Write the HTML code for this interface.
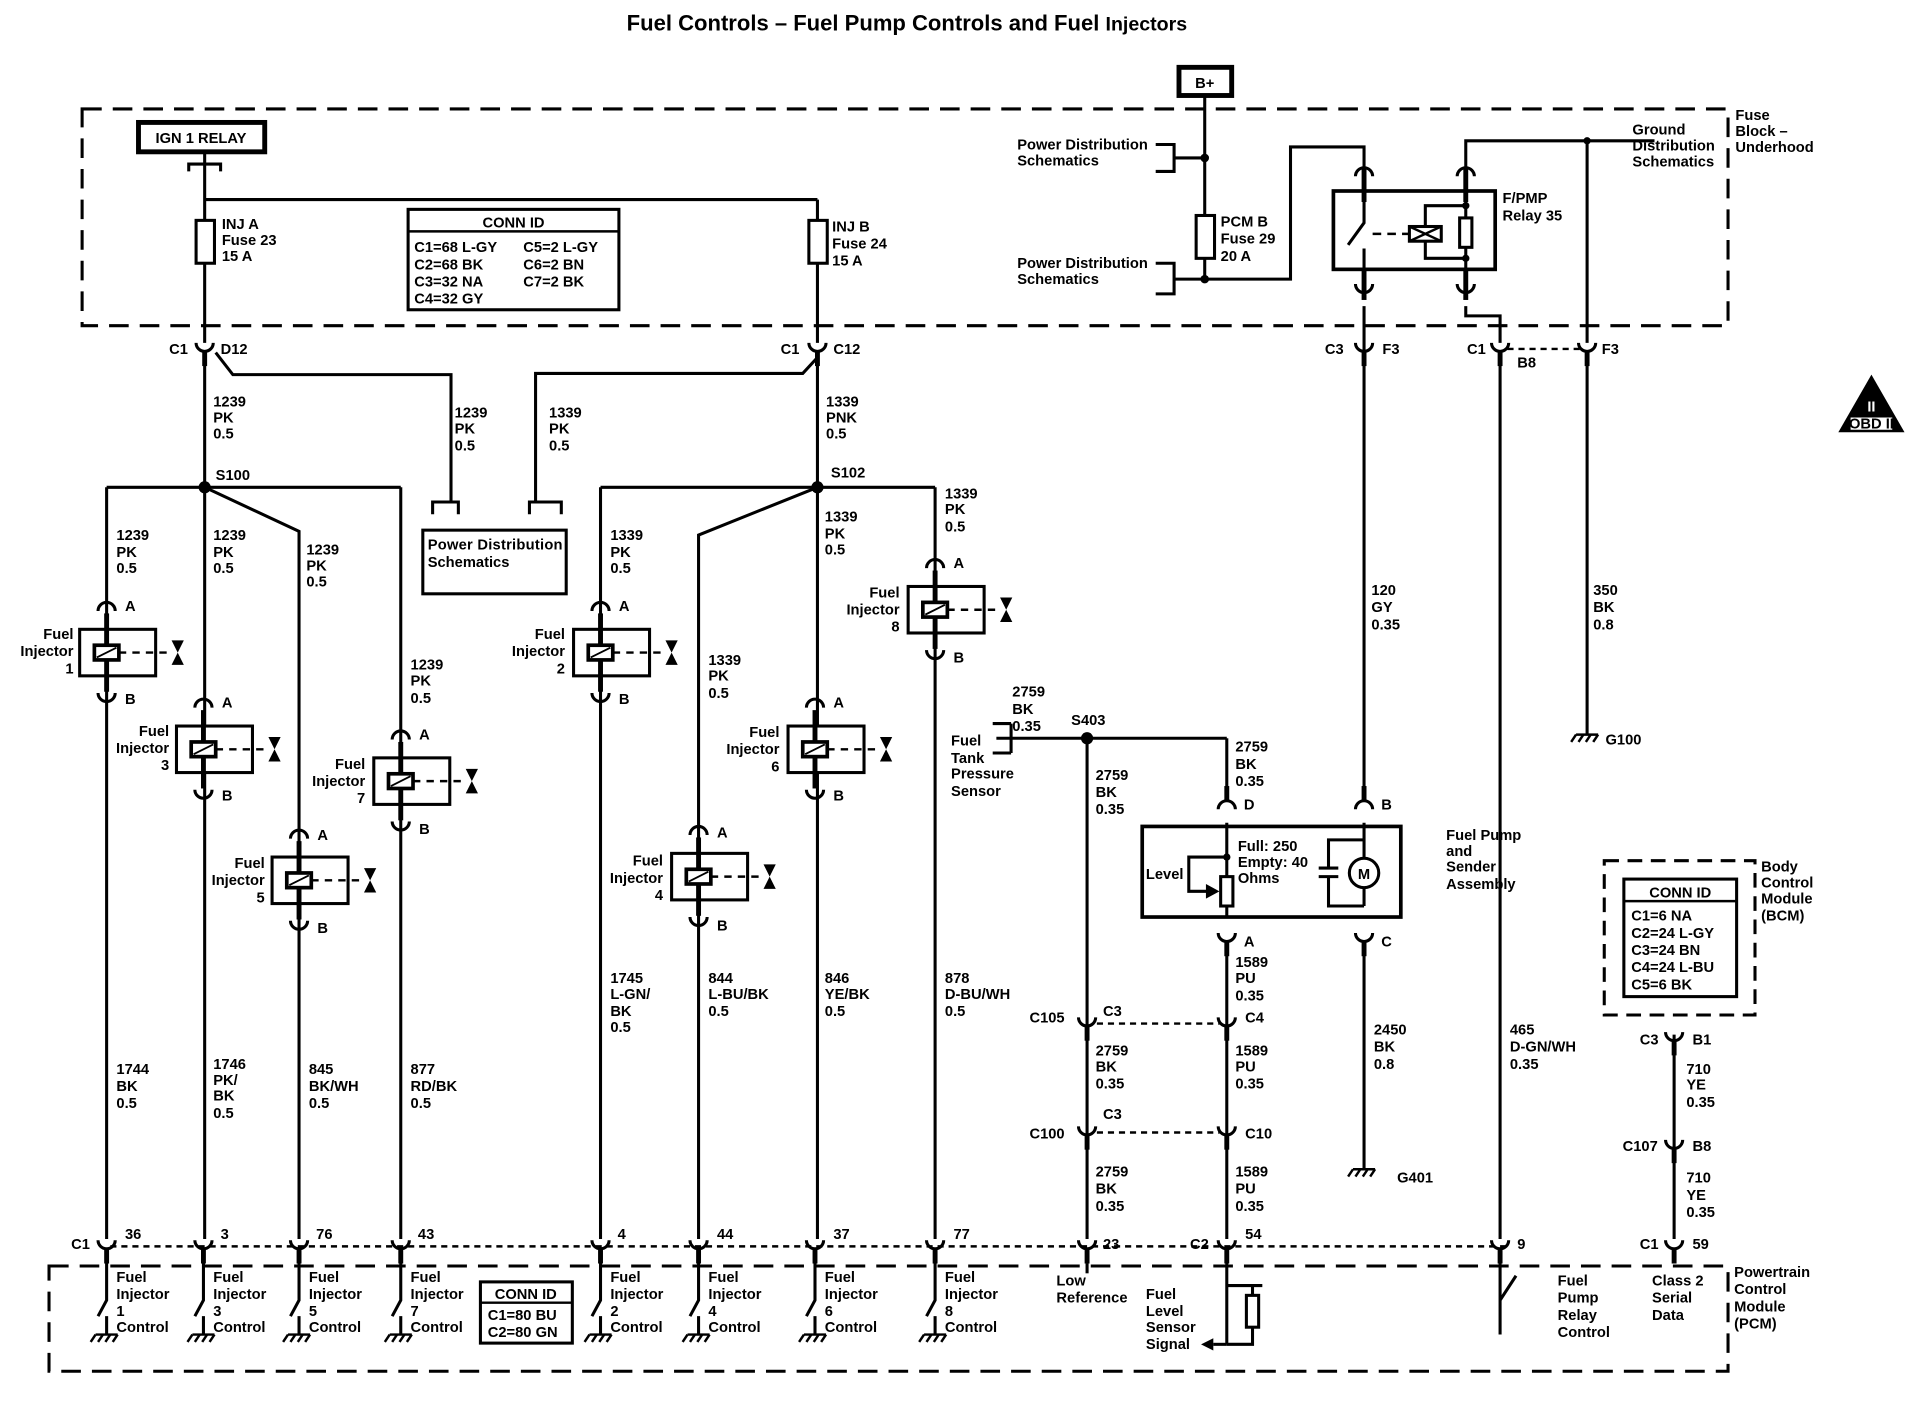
<!DOCTYPE html>
<html><head><meta charset="utf-8"><style>
html,body{margin:0;padding:0;background:#fff}
svg{display:block}
text{font-family:"Liberation Sans",sans-serif;font-weight:bold;font-size:12px;fill:#000}
.t{font-size:18px}
</style></head><body>
<svg width="1918" height="1408" viewBox="0 0 1565 1150" preserveAspectRatio="none" xmlns="http://www.w3.org/2000/svg">
<defs>
<g id="inj">
<path d="M-7,-15 A7,7 0 0 1 7,-15" fill="none" stroke="#000" stroke-width="2.5"/>
<line x1="0" y1="-13" x2="0" y2="0" stroke="#000" stroke-width="4"/>
<rect x="-22" y="0" width="62" height="38" fill="#fff" stroke="#000" stroke-width="2.5"/>
<line x1="0" y1="0" x2="0" y2="38" stroke="#000" stroke-width="4"/>
<rect x="-10" y="13" width="20" height="12" fill="#fff" stroke="#000" stroke-width="3"/>
<line x1="-8" y1="23" x2="8" y2="15" stroke="#000" stroke-width="1.5"/>
<line x1="10" y1="19" x2="50" y2="19" stroke="#000" stroke-width="2" stroke-dasharray="6,5"/>
<path d="M53,9 L63,9 L53,29 L63,29 Z" fill="#000"/>
<line x1="0" y1="38" x2="0" y2="51" stroke="#000" stroke-width="4"/>
<path d="M-7,52 A7,7 0 0 0 7,52" fill="none" stroke="#000" stroke-width="2.5"/>
</g>
<g id="cup"><path d="M-7,-5 A7,7 0 0 0 7,-5" fill="none" stroke="#000" stroke-width="2.5"/><line x1="0" y1="2" x2="0" y2="14" stroke="#000" stroke-width="4"/></g>
<g id="cap"><path d="M-7,5 A7,7 0 0 1 7,5" fill="none" stroke="#000" stroke-width="2.5"/><line x1="0" y1="-2" x2="0" y2="-14" stroke="#000" stroke-width="4"/></g>
<g id="gnd"><line x1="-9" y1="0" x2="9" y2="0" stroke="#000" stroke-width="2"/><line x1="-9" y1="0" x2="-13" y2="6" stroke="#000" stroke-width="2"/><line x1="-3" y1="0" x2="-7" y2="6" stroke="#000" stroke-width="2"/><line x1="3" y1="0" x2="-1" y2="6" stroke="#000" stroke-width="2"/><line x1="9" y1="0" x2="5" y2="6" stroke="#000" stroke-width="2"/></g>
</defs>
<text class="t" x="740" y="25" text-anchor="middle">Fuel Controls – Fuel Pump Controls and Fuel <tspan font-size="16">Injectors</tspan></text>

<g fill="none" stroke="#000" stroke-width="2.5">
<rect x="67" y="89" width="1343" height="177" stroke-dasharray="16,9"/>
<rect x="40" y="1034" width="1370" height="86" stroke-dasharray="16,9"/>
<rect x="1309" y="703" width="123" height="126" stroke-dasharray="12,7"/>
<line x1="90" y1="1018" x2="1230" y2="1018" stroke-dasharray="5,4" stroke-width="2"/>
<line x1="895" y1="836" x2="995" y2="836" stroke-dasharray="5,4" stroke-width="2"/>
<line x1="895" y1="925" x2="995" y2="925" stroke-dasharray="5,4" stroke-width="2"/>
<line x1="1230" y1="285" x2="1290" y2="285" stroke-dasharray="5,4" stroke-width="2"/>
</g>
<rect x="962" y="55" width="43" height="23" fill="#fff" stroke="#000" stroke-width="4"/>
<text x="983" y="72" text-anchor="middle">B+</text>
<rect x="113" y="100" width="103" height="24" fill="#fff" stroke="#000" stroke-width="4"/>
<text x="164" y="117" text-anchor="middle">IGN 1 RELAY</text>
<text x="1416" y="98">Fuse</text><text x="1416" y="111">Block –</text><text x="1416" y="124">Underhood</text>

<g stroke="#000" stroke-width="2.5" fill="none">
<path d="M154,140 L154,134 L180,134 L180,140"/>
<line x1="167" y1="124" x2="167" y2="280"/>
<line x1="167" y1="163" x2="667" y2="163"/>
<line x1="667" y1="163" x2="667" y2="280"/>
<line x1="167" y1="290" x2="167" y2="1012"/>
<path d="M176,288 L190,306 L368,306 L368,410"/>
<path d="M437,410 L437,305 L655,305 L667,292"/>
<line x1="667" y1="290" x2="667" y2="1012"/>
<path d="M353,420 L353,410 L374,410 L374,420"/>
<path d="M432,420 L432,410 L458,410 L458,420"/>
<line x1="87" y1="398" x2="327" y2="398"/>
<line x1="87" y1="398" x2="87" y2="1012"/>
<line x1="327" y1="398" x2="327" y2="1012"/>
<path d="M167,398 L244,434 L244,1012"/>
<line x1="490" y1="398" x2="763" y2="398"/>
<line x1="490" y1="398" x2="490" y2="1012"/>
<path d="M667,398 L570,437 L570,1012"/>
<line x1="763" y1="398" x2="763" y2="1012"/>
<line x1="983" y1="78" x2="983" y2="228"/>
<path d="M943,118 L958,118 L958,140 L943,140 M958,129 L983,129"/>
<path d="M943,215 L958,215 L958,240 L943,240 M958,228 L1053,228 L1053,120 L1113,120 L1113,138"/>
<rect x="1088" y="156" width="132" height="64" stroke-width="3"/>
<path d="M1350,115 L1196,115 L1196,138"/>
<line x1="1295" y1="115" x2="1295" y2="280"/>
<line x1="1113" y1="250" x2="1113" y2="655"/>
<path d="M1196,250 L1196,258 L1224,258 L1224,280"/>
<line x1="1224" y1="290" x2="1224" y2="1012"/>
<line x1="1295" y1="290" x2="1295" y2="600"/>
<rect x="932" y="675" width="211" height="74" stroke-width="3"/>
<line x1="1113" y1="672" x2="1113" y2="740"/>
<line x1="1113" y1="768" x2="1113" y2="955"/>
<path d="M1113,686 L1084,686 L1084,709 M1076,709 L1092,709 M1076,716 L1092,716 M1084,716 L1084,740 L1113,740"/>
<circle cx="1113" cy="713" r="12" fill="#fff"/>
<line x1="1001" y1="603" x2="1001" y2="653"/>
<line x1="1001" y1="672" x2="1001" y2="750"/>
<line x1="1001" y1="770" x2="1001" y2="1012"/>
<rect x="996" y="716" width="10" height="24" fill="#fff"/>
<path d="M1001,700 L970,700 L970,728 L985,728"/>
<path d="M825,591 L825,615 M813,603 L1001,603"/>
<path d="M810,591 L825,591 M810,615 L825,615"/>
<line x1="887" y1="603" x2="887" y2="1012"/>
<line x1="1366" y1="845" x2="1366" y2="1012"/>
<line x1="1001" y1="1025" x2="1001" y2="1098"/>
<path d="M1001,1098 L990,1098"/>
<path d="M1001,1050 L1022,1050 M1015,1050 L1030,1050 M1022,1050 L1022,1058"/>
<rect x="1017" y="1058" width="10" height="26" fill="#fff"/>
<path d="M1022,1084 L1022,1098 L1001,1098"/>
</g>
<path d="M984,722 L995,728 L984,734 Z" fill="#000"/>
<path d="M990,1093 L980,1098 L990,1103 Z" fill="#000"/>
<g fill="#000"><circle cx="167" cy="398" r="5"/><circle cx="667" cy="398" r="5"/><circle cx="887" cy="603" r="5"/><circle cx="983" cy="129" r="3.5"/><circle cx="983" cy="228" r="3.5"/><circle cx="1295" cy="115" r="3"/><circle cx="1001" cy="700" r="3"/></g>
<text x="1113" y="718" text-anchor="middle" font-size="11">M</text>
<text x="935" y="718">Level</text>
<text x="1010" y="695">Full: 250</text><text x="1010" y="708">Empty: 40</text><text x="1010" y="721">Ohms</text>

<rect x="160" y="180" width="15" height="35" fill="#fff" stroke="#000" stroke-width="2.5"/>
<rect x="660" y="180" width="15" height="35" fill="#fff" stroke="#000" stroke-width="2.5"/>
<rect x="976" y="176" width="15" height="35" fill="#fff" stroke="#000" stroke-width="2.5"/>
<text x="181" y="187">INJ A</text><text x="181" y="200">Fuse 23</text><text x="181" y="213">15 A</text>
<text x="679" y="189">INJ B</text><text x="679" y="203">Fuse 24</text><text x="679" y="217">15 A</text>
<text x="996" y="185">PCM B</text><text x="996" y="199">Fuse 29</text><text x="996" y="213">20 A</text>
<text x="830" y="122">Power Distribution</text><text x="830" y="135">Schematics</text>
<text x="830" y="219">Power Distribution</text><text x="830" y="232">Schematics</text>
<text x="1332" y="110">Ground</text><text x="1332" y="123">Distribution</text><text x="1332" y="136">Schematics</text>
<text x="1226" y="166">F/PMP</text><text x="1226" y="180">Relay 35</text>

<g stroke="#000" fill="none">
<line x1="1113" y1="138" x2="1113" y2="165" stroke-width="4"/><path d="M1106,144 A7,7 0 0 1 1120,144" stroke-width="2.5"/>
<line x1="1113" y1="220" x2="1113" y2="245" stroke-width="4"/><path d="M1106,232 A7,7 0 0 0 1120,232" stroke-width="2.5"/>
<line x1="1196" y1="138" x2="1196" y2="165" stroke-width="4"/><path d="M1189,144 A7,7 0 0 1 1203,144" stroke-width="2.5"/>
<line x1="1196" y1="220" x2="1196" y2="245" stroke-width="4"/><path d="M1189,232 A7,7 0 0 0 1203,232" stroke-width="2.5"/>
<path d="M1113,156 L1113,182 L1100,200 M1113,203 L1113,220" stroke-width="2.5"/>
<line x1="1120" y1="191" x2="1150" y2="191" stroke-width="2" stroke-dasharray="7,5"/>
<rect x="1150" y="185" width="26" height="12" stroke-width="2.5"/>
<path d="M1150,185 L1176,197 M1150,197 L1176,185" stroke-width="2"/>
<path d="M1163,185 L1163,168 L1196,168 M1163,197 L1163,211 L1196,211 M1196,156 L1196,220" stroke-width="2.5"/>
<rect x="1191" y="178" width="10" height="24" fill="#fff" stroke-width="2.5"/>
</g>
<circle cx="1196" cy="168" r="3" fill="#000"/><circle cx="1196" cy="211" r="3" fill="#000"/>

<rect x="333" y="171" width="172" height="82" fill="#fff" stroke="#000" stroke-width="2.5"/>
<line x1="333" y1="189" x2="505" y2="189" stroke="#000" stroke-width="2"/>
<text x="419" y="186" text-anchor="middle">CONN ID</text>
<text x="338" y="206">C1=68 L-GY</text><text x="427" y="206">C5=2 L-GY</text>
<text x="338" y="220">C2=68 BK</text><text x="427" y="220">C6=2 BN</text>
<text x="338" y="234">C3=32 NA</text><text x="427" y="234">C7=2 BK</text>
<text x="338" y="248">C4=32 GY</text>

<use href="#cup" x="167" y="285"/><use href="#cup" x="667" y="285"/>
<use href="#cup" x="1113" y="285"/><use href="#cup" x="1224" y="285"/><use href="#cup" x="1295" y="285"/>
<text x="138" y="289">C1</text><text x="180" y="289">D12</text>
<text x="637" y="289">C1</text><text x="680" y="289">C12</text>
<text x="1081" y="289">C3</text><text x="1128" y="289">F3</text>
<text x="1197" y="289">C1</text><text x="1238" y="300">B8</text><text x="1307" y="289">F3</text>

<text x="174" y="332">1239</text><text x="174" y="345">PK</text><text x="174" y="358">0.5</text>
<text x="371" y="341">1239</text><text x="371" y="354">PK</text><text x="371" y="368">0.5</text>
<text x="448" y="341">1339</text><text x="448" y="354">PK</text><text x="448" y="368">0.5</text>
<text x="674" y="332">1339</text><text x="674" y="345">PNK</text><text x="674" y="358">0.5</text>
<text x="176" y="392">S100</text><text x="678" y="390">S102</text>
<rect x="345" y="433" width="117" height="52" fill="#fff" stroke="#000" stroke-width="2.5"/>
<text x="349" y="449" textLength="110">Power Distribution</text><text x="349" y="463">Schematics</text>

<text x="95" y="441">1239</text><text x="95" y="455">PK</text><text x="95" y="468">0.5</text>
<text x="174" y="441">1239</text><text x="174" y="455">PK</text><text x="174" y="468">0.5</text>
<text x="250" y="453">1239</text><text x="250" y="466">PK</text><text x="250" y="479">0.5</text>
<text x="335" y="547">1239</text><text x="335" y="560">PK</text><text x="335" y="574">0.5</text>
<text x="498" y="441">1339</text><text x="498" y="455">PK</text><text x="498" y="468">0.5</text>
<text x="578" y="543">1339</text><text x="578" y="556">PK</text><text x="578" y="570">0.5</text>
<text x="673" y="426">1339</text><text x="673" y="440">PK</text><text x="673" y="453">0.5</text>
<text x="771" y="407">1339</text><text x="771" y="420">PK</text><text x="771" y="434">0.5</text>

<use href="#inj" x="87" y="514"/><use href="#inj" x="166" y="593"/><use href="#inj" x="244" y="700"/><use href="#inj" x="327" y="619"/>
<use href="#inj" x="490" y="514"/><use href="#inj" x="570" y="697"/><use href="#inj" x="665" y="593"/><use href="#inj" x="763" y="479"/>
<text x="102" y="499">A</text><text x="102" y="575">B</text>
<text x="181" y="578">A</text><text x="181" y="654">B</text>
<text x="259" y="686">A</text><text x="259" y="762">B</text>
<text x="342" y="604">A</text><text x="342" y="681">B</text>
<text x="505" y="499">A</text><text x="505" y="575">B</text>
<text x="585" y="684">A</text><text x="585" y="760">B</text>
<text x="680" y="578">A</text><text x="680" y="654">B</text>
<text x="778" y="464">A</text><text x="778" y="541">B</text>
<g text-anchor="end">
<text x="60" y="522">Fuel</text><text x="60" y="536">Injector</text><text x="60" y="550">1</text>
<text x="138" y="601">Fuel</text><text x="138" y="615">Injector</text><text x="138" y="629">3</text>
<text x="216" y="709">Fuel</text><text x="216" y="723">Injector</text><text x="216" y="737">5</text>
<text x="298" y="628">Fuel</text><text x="298" y="642">Injector</text><text x="298" y="656">7</text>
<text x="461" y="522">Fuel</text><text x="461" y="536">Injector</text><text x="461" y="550">2</text>
<text x="541" y="707">Fuel</text><text x="541" y="721">Injector</text><text x="541" y="735">4</text>
<text x="636" y="602">Fuel</text><text x="636" y="616">Injector</text><text x="636" y="630">6</text>
<text x="734" y="488">Fuel</text><text x="734" y="502">Injector</text><text x="734" y="516">8</text>
</g>

<text x="95" y="877">1744</text><text x="95" y="891">BK</text><text x="95" y="905">0.5</text>
<text x="174" y="873">1746</text><text x="174" y="886">PK/</text><text x="174" y="899">BK</text><text x="174" y="913">0.5</text>
<text x="252" y="877">845</text><text x="252" y="891">BK/WH</text><text x="252" y="905">0.5</text>
<text x="335" y="877">877</text><text x="335" y="891">RD/BK</text><text x="335" y="905">0.5</text>
<text x="498" y="803">1745</text><text x="498" y="816">L-GN/</text><text x="498" y="830">BK</text><text x="498" y="843">0.5</text>
<text x="578" y="803">844</text><text x="578" y="816">L-BU/BK</text><text x="578" y="830">0.5</text>
<text x="673" y="803">846</text><text x="673" y="816">YE/BK</text><text x="673" y="830">0.5</text>
<text x="771" y="803">878</text><text x="771" y="816">D-BU/WH</text><text x="771" y="830">0.5</text>

<text x="826" y="569">2759</text><text x="826" y="583">BK</text><text x="826" y="597">0.35</text>
<text x="874" y="592">S403</text>
<text x="776" y="609">Fuel</text><text x="776" y="623">Tank</text><text x="776" y="636">Pressure</text><text x="776" y="650">Sensor</text>
<text x="894" y="637">2759</text><text x="894" y="651">BK</text><text x="894" y="665">0.35</text>
<text x="1008" y="614">2759</text><text x="1008" y="628">BK</text><text x="1008" y="642">0.35</text>
<use href="#cap" x="1001" y="656"/><text x="1015" y="661">D</text>
<use href="#cap" x="1113" y="656"/><text x="1127" y="661">B</text>
<use href="#cup" x="1001" y="767"/><text x="1015" y="773">A</text>
<use href="#cup" x="1113" y="767"/><text x="1127" y="773">C</text>
<text x="1180" y="686">Fuel Pump</text><text x="1180" y="699">and</text><text x="1180" y="712">Sender</text><text x="1180" y="726">Assembly</text>
<text x="1008" y="790">1589</text><text x="1008" y="803">PU</text><text x="1008" y="817">0.35</text>
<text x="1119" y="486">120</text><text x="1119" y="500">GY</text><text x="1119" y="514">0.35</text>
<text x="1300" y="486">350</text><text x="1300" y="500">BK</text><text x="1300" y="514">0.8</text>
<use href="#gnd" x="1295" y="600"/><text x="1310" y="608">G100</text>
<use href="#gnd" x="1113" y="955"/><text x="1140" y="966">G401</text>

<use href="#cup" x="887" y="836"/><use href="#cup" x="1001" y="836"/>
<use href="#cup" x="887" y="925"/><use href="#cup" x="1001" y="925"/>
<text x="840" y="835">C105</text><text x="900" y="830">C3</text><text x="1016" y="835">C4</text>
<text x="840" y="930">C100</text><text x="900" y="914">C3</text><text x="1016" y="930">C10</text>
<text x="894" y="862">2759</text><text x="894" y="875">BK</text><text x="894" y="889">0.35</text>
<text x="1008" y="862">1589</text><text x="1008" y="875">PU</text><text x="1008" y="889">0.35</text>
<text x="894" y="961">2759</text><text x="894" y="975">BK</text><text x="894" y="989">0.35</text>
<text x="1008" y="961">1589</text><text x="1008" y="975">PU</text><text x="1008" y="989">0.35</text>
<text x="1121" y="845">2450</text><text x="1121" y="859">BK</text><text x="1121" y="873">0.8</text>
<text x="1232" y="845">465</text><text x="1232" y="859">D-GN/WH</text><text x="1232" y="873">0.35</text>

<rect x="1325" y="718" width="92" height="96" fill="#fff" stroke="#000" stroke-width="2.5"/>
<line x1="1325" y1="736" x2="1417" y2="736" stroke="#000" stroke-width="2"/>
<text x="1371" y="733" text-anchor="middle">CONN ID</text>
<text x="1331" y="752">C1=6 NA</text><text x="1331" y="766">C2=24 L-GY</text><text x="1331" y="780">C3=24 BN</text><text x="1331" y="794">C4=24 L-BU</text><text x="1331" y="808">C5=6 BK</text>
<text x="1437" y="712">Body</text><text x="1437" y="725">Control</text><text x="1437" y="738">Module</text><text x="1437" y="752">(BCM)</text>
<use href="#cup" x="1366" y="848"/><text x="1338" y="853">C3</text><text x="1381" y="853">B1</text>
<text x="1376" y="877">710</text><text x="1376" y="890">YE</text><text x="1376" y="904">0.35</text>
<use href="#cup" x="1366" y="936"/><text x="1324" y="940">C107</text><text x="1381" y="940">B8</text>
<text x="1376" y="966">710</text><text x="1376" y="980">YE</text><text x="1376" y="994">0.35</text>

<path d="M1527,306 L1500,353 L1554,353 Z" fill="#000"/>
<text x="1527" y="336" text-anchor="middle" font-size="14" style="fill:#fff">II</text>
<rect x="1510" y="341" width="34" height="10" fill="#fff"/>
<text x="1527" y="350" text-anchor="middle" font-size="9.5">OBD II</text>

<use href="#cup" x="87" y="1018"/><use href="#cup" x="166" y="1018"/><use href="#cup" x="244" y="1018"/><use href="#cup" x="327" y="1018"/>
<use href="#cup" x="490" y="1018"/><use href="#cup" x="570" y="1018"/><use href="#cup" x="665" y="1018"/><use href="#cup" x="763" y="1018"/>
<use href="#cup" x="887" y="1018"/><use href="#cup" x="1001" y="1018"/><use href="#cup" x="1224" y="1018"/><use href="#cup" x="1366" y="1018"/>
<text x="58" y="1020">C1</text><text x="102" y="1012">36</text><text x="180" y="1012">3</text><text x="258" y="1012">76</text><text x="341" y="1012">43</text>
<text x="504" y="1012">4</text><text x="585" y="1012">44</text><text x="680" y="1012">37</text><text x="778" y="1012">77</text>
<text x="900" y="1020">23</text><text x="971" y="1020">C2</text><text x="1016" y="1012">54</text><text x="1238" y="1020">9</text>
<text x="1338" y="1020">C1</text><text x="1381" y="1020">59</text>
<g stroke="#000" stroke-width="2.5" fill="none">
<path d="M87,1032 L87,1062 L80,1075 M87,1075 L87,1090"/>
<path d="M166,1032 L166,1062 L159,1075 M166,1075 L166,1090"/>
<path d="M244,1032 L244,1062 L237,1075 M244,1075 L244,1090"/>
<path d="M327,1032 L327,1062 L320,1075 M327,1075 L327,1090"/>
<path d="M490,1032 L490,1062 L483,1075 M490,1075 L490,1090"/>
<path d="M570,1032 L570,1062 L563,1075 M570,1075 L570,1090"/>
<path d="M665,1032 L665,1062 L658,1075 M665,1075 L665,1090"/>
<path d="M763,1032 L763,1062 L756,1075 M763,1075 L763,1090"/>
<path d="M887,1032 L887,1040"/>
<path d="M1224,1032 L1224,1062 L1237,1042 M1224,1062 L1224,1090"/>
</g>
<use href="#gnd" x="87" y="1090"/><use href="#gnd" x="166" y="1090"/><use href="#gnd" x="244" y="1090"/><use href="#gnd" x="327" y="1090"/>
<use href="#gnd" x="490" y="1090"/><use href="#gnd" x="570" y="1090"/><use href="#gnd" x="665" y="1090"/><use href="#gnd" x="763" y="1090"/>
<text x="95" y="1047">Fuel</text><text x="95" y="1061">Injector</text><text x="95" y="1075">1</text><text x="95" y="1088">Control</text>
<text x="174" y="1047">Fuel</text><text x="174" y="1061">Injector</text><text x="174" y="1075">3</text><text x="174" y="1088">Control</text>
<text x="252" y="1047">Fuel</text><text x="252" y="1061">Injector</text><text x="252" y="1075">5</text><text x="252" y="1088">Control</text>
<text x="335" y="1047">Fuel</text><text x="335" y="1061">Injector</text><text x="335" y="1075">7</text><text x="335" y="1088">Control</text>
<text x="498" y="1047">Fuel</text><text x="498" y="1061">Injector</text><text x="498" y="1075">2</text><text x="498" y="1088">Control</text>
<text x="578" y="1047">Fuel</text><text x="578" y="1061">Injector</text><text x="578" y="1075">4</text><text x="578" y="1088">Control</text>
<text x="673" y="1047">Fuel</text><text x="673" y="1061">Injector</text><text x="673" y="1075">6</text><text x="673" y="1088">Control</text>
<text x="771" y="1047">Fuel</text><text x="771" y="1061">Injector</text><text x="771" y="1075">8</text><text x="771" y="1088">Control</text>
<rect x="392" y="1047" width="75" height="50" fill="#fff" stroke="#000" stroke-width="2.5"/>
<line x1="392" y1="1064" x2="467" y2="1064" stroke="#000" stroke-width="2"/>
<text x="429" y="1061" text-anchor="middle">CONN ID</text>
<text x="398" y="1078">C1=80 BU</text><text x="398" y="1092">C2=80 GN</text>
<text x="862" y="1050">Low</text><text x="862" y="1064">Reference</text>
<text x="935" y="1061">Fuel</text><text x="935" y="1075">Level</text><text x="935" y="1088">Sensor</text><text x="935" y="1102">Signal</text>
<text x="1271" y="1050">Fuel</text><text x="1271" y="1064">Pump</text><text x="1271" y="1078">Relay</text><text x="1271" y="1092">Control</text>
<text x="1348" y="1050">Class 2</text><text x="1348" y="1064">Serial</text><text x="1348" y="1078">Data</text>
<text x="1415" y="1043">Powertrain</text><text x="1415" y="1057">Control</text><text x="1415" y="1071">Module</text><text x="1415" y="1085">(PCM)</text>
</svg>
</body></html>
